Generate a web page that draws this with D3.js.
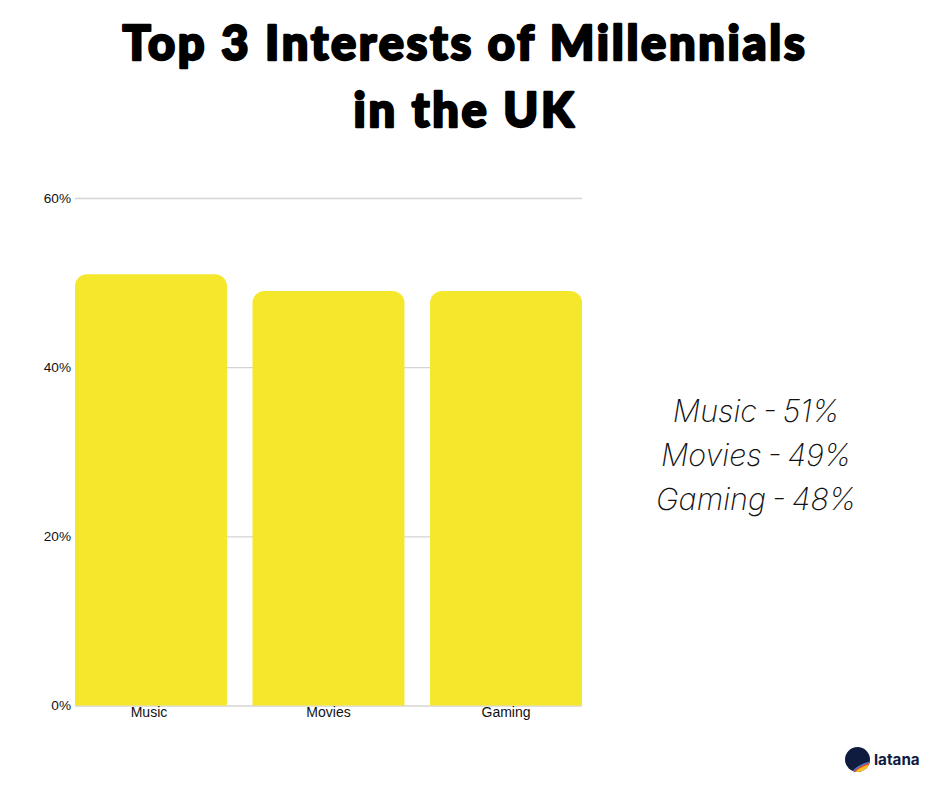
<!DOCTYPE html>
<html>
<head>
<meta charset="utf-8">
<script src="https://cdn.jsdelivr.net/npm/d3@7"></script>
<style>
  html, body { margin: 0; padding: 0; background: #fff; }
  svg { display: block; }
</style>
</head>
<body>
<div id="chart"></div>
<script>
const categories  = ['Music', 'Movies', 'Gaming'];
const barValues   = [51, 49, 49];
const yTicks      = [0, 20, 40, 60];
const titleLines  = ['Top 3 Interests of Millennials', 'in the UK'];
const noteLines   = ['Music - 51%', 'Movies - 49%', 'Gaming - 48%'];
const logoColors  = ['#3f7fd0', '#e8452c', '#f6c21c'];

const width = 940, height = 788;
const margin = {top: 198, right: 358, bottom: 82.5, left: 75};

const svg = d3.select('#chart').append('svg')
    .attr('width', width)
    .attr('height', height);

const x = d3.scaleBand()
    .domain(categories)
    .range([margin.left, width - margin.right])
    .paddingInner(0.144)
    .paddingOuter(0);

const y = d3.scaleLinear()
    .domain([0, 60])
    .range([height - margin.bottom, margin.top]);

// title
svg.append('g').selectAll('text')
  .data(titleLines)
  .enter().append('text')
    .text(d => d)
    .attr('x', 465)
    .attr('y', (d, i) => 60 + i * 67)
    .attr('text-anchor', 'middle')
    .attr('font-family', 'Lato, sans-serif')
    .attr('font-weight', 900)
    .attr('font-size', '47px')
    .attr('letter-spacing', '2.7px')
    .attr('fill', '#000')
    .attr('stroke', '#000')
    .attr('stroke-width', 2.4)
    .attr('stroke-linejoin', 'round');

// gridlines and y labels
const yAxis = d3.axisLeft(y)
    .tickValues(yTicks)
    .tickFormat(d => d + '%')
    .tickSize(-(width - margin.left - margin.right))
    .tickPadding(4);

const gy = svg.append('g')
    .attr('transform', `translate(${margin.left},0)`)
    .call(yAxis);
gy.select('.domain').remove();
gy.selectAll('line').attr('stroke', '#d4d4d4').attr('stroke-width', 1.3);
gy.selectAll('text')
    .attr('font-family', 'Liberation Sans, Arial, sans-serif')
    .attr('font-size', '13.6px')
    .attr('fill', '#111');

// bars, rounded on top only
const r = 12;
svg.append('g').selectAll('path')
  .data(barValues)
  .enter().append('path')
    .attr('fill', '#f5e72b')
    .attr('d', (d, i) => {
      const p = d3.path();
      const x0 = x(categories[i]), x1 = x0 + x.bandwidth();
      const top = y(d), bottom = y(0);
      p.moveTo(x0, bottom);
      p.lineTo(x0, top + r);
      p.arcTo(x0, top, x0 + r, top, r);
      p.lineTo(x1 - r, top);
      p.arcTo(x1, top, x1, top + r, r);
      p.lineTo(x1, bottom);
      p.closePath();
      return p.toString();
    });

// category labels
const xAxis = d3.axisBottom(x).tickSize(0).tickPadding(2);
const gx = svg.append('g')
    .attr('transform', `translate(0,${height - margin.bottom})`)
    .call(xAxis);
gx.select('.domain').remove();
gx.selectAll('text')
    .attr('dx', d => d === 'Music' ? -2 : 0)
    .attr('font-family', 'Liberation Sans, Arial, sans-serif')
    .attr('font-size', '14px')
    .attr('fill', '#111');

// side note
svg.append('g').selectAll('text')
  .data(noteLines)
  .enter().append('text')
    .text(d => d)
    .attr('x', 756)
    .attr('y', (d, i) => 422 + i * 44)
    .attr('text-anchor', 'middle')
    .attr('font-family', 'Inter, sans-serif')
    .attr('font-style', 'italic')
    .attr('font-weight', 200)
    .attr('font-size', '30.5px')
    .attr('word-spacing', '-2.5px')
    .attr('fill', '#111');

// logo
const defs = svg.append('defs');
defs.append('clipPath').attr('id', 'logo-clip')
  .append('circle').attr('cx', 857.5).attr('cy', 759.5).attr('r', 12.5);

const logo = svg.append('g');
logo.append('circle')
    .attr('cx', 857.5).attr('cy', 759.5).attr('r', 12.5)
    .attr('fill', '#0f1c3f');
const swoosh = logo.append('g').attr('clip-path', 'url(#logo-clip)');
swoosh.selectAll('ellipse')
  .data(logoColors)
  .enter().append('ellipse')
    .attr('cx', 868)
    .attr('cy', 773)
    .attr('rx', (d, i) => 20 - i * 1.4)
    .attr('ry', (d, i) => 10.5 - i * 1.4)
    .attr('transform', 'rotate(-22 868 773)')
    .attr('fill', d => d);
swoosh.append('ellipse')
    .attr('cx', 868).attr('cy', 774)
    .attr('rx', 15).attr('ry', 5.5)
    .attr('transform', 'rotate(-22 868 774)')
    .attr('fill', '#fff');
logo.append('text')
    .text('latana')
    .attr('x', 874)
    .attr('y', 765)
    .attr('font-family', 'Inter, sans-serif')
    .attr('font-weight', 700)
    .attr('font-size', '15.2px')
    .attr('fill', '#0f1c3f');
</script>
</body>
</html>
